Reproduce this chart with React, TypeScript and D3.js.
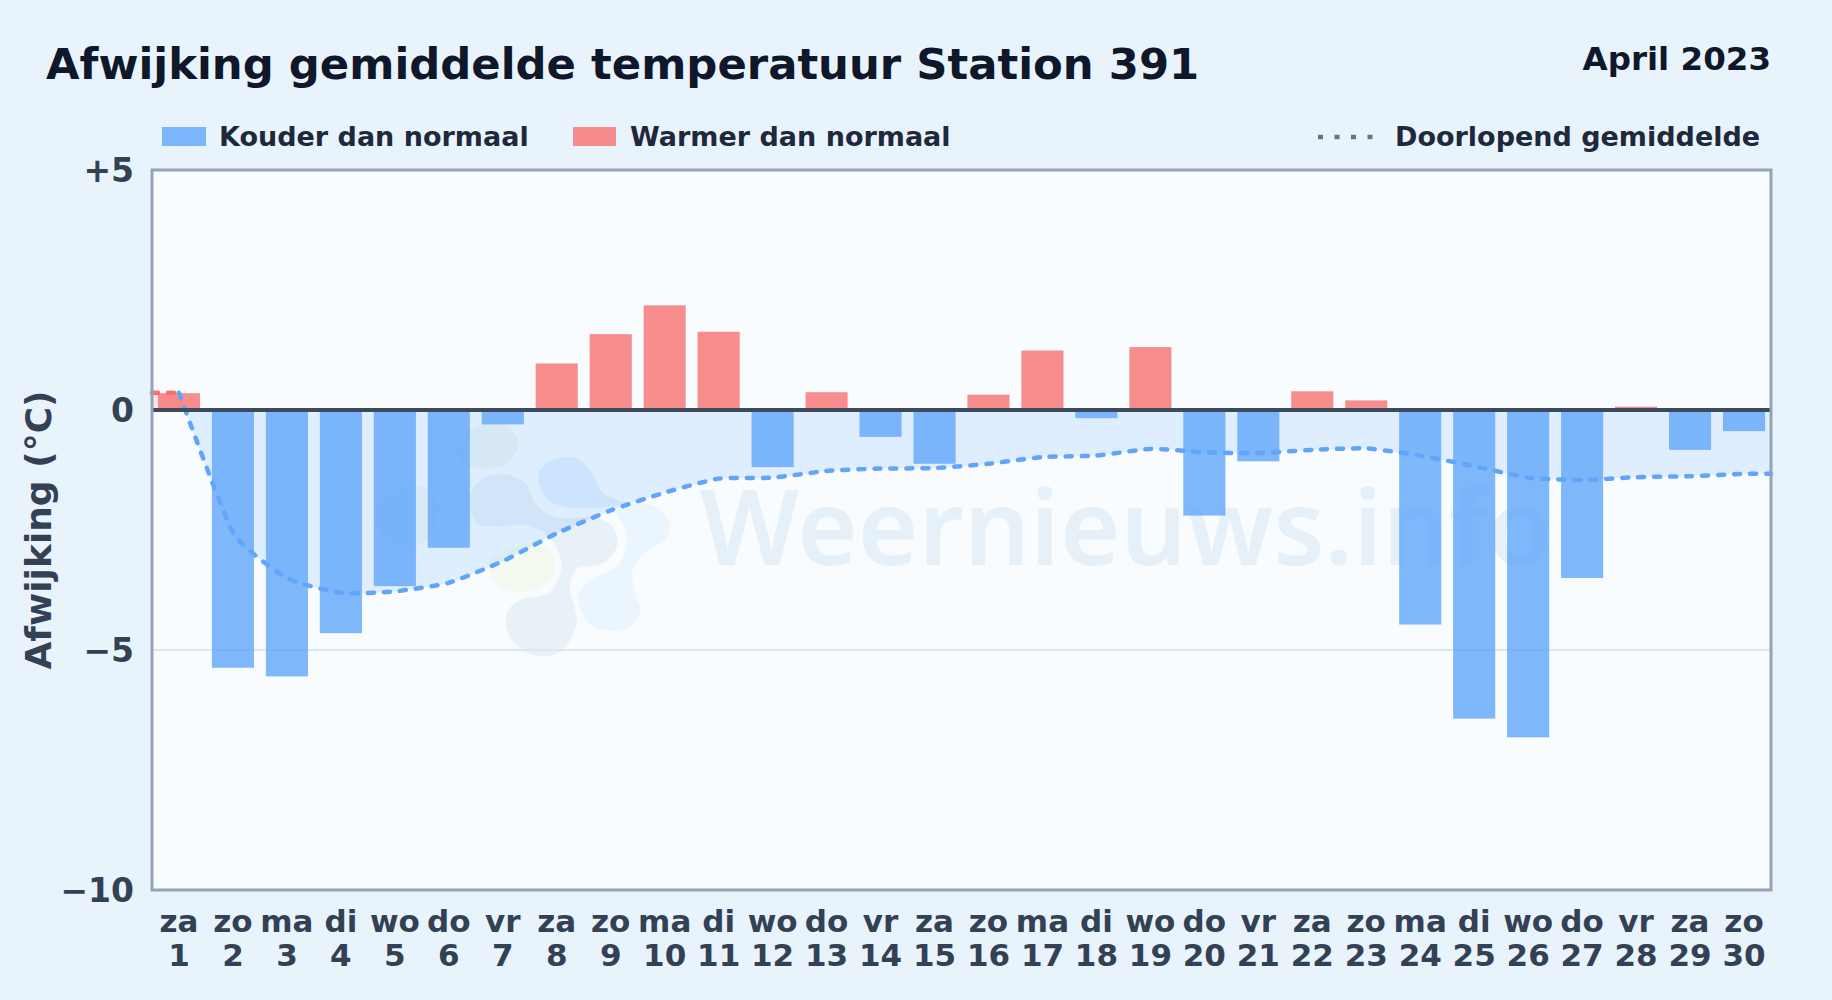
import React, { useEffect, useRef } from "react";
import * as d3 from "d3";

const weekdays = ["za","zo","ma","di","wo","do","vr","za","zo","ma","di","wo","do","vr","za","zo","ma","di","wo","do","vr","za","zo","ma","di","wo","do","vr","za","zo"];
const days = [1,2,3,4,5,6,7,8,9,10,11,12,13,14,15,16,17,18,19,20,21,22,23,24,25,26,27,28,29,30];
const deviation = [0.35,-5.37,-5.55,-4.65,-3.67,-2.87,-0.3,0.97,1.58,2.18,1.63,-1.19,0.37,-0.56,-1.12,0.32,1.24,-0.17,1.31,-2.2,-1.07,0.39,0.2,-4.47,-6.43,-6.82,-3.5,0.07,-0.83,-0.44];
const runningMean = [0.36,-2.55,-3.5,-3.81,-3.78,-3.6,-3.15,-2.57,-2.09,-1.72,-1.43,-1.41,-1.27,-1.22,-1.21,-1.12,-0.98,-0.95,-0.81,-0.88,-0.9,-0.83,-0.8,-0.95,-1.17,-1.41,-1.46,-1.4,-1.38,-1.33];
const yTicks = [5, 0, -5, -10];
const legendItems = ["Kouder dan normaal", "Warmer dan normaal"];

const W = 1832;
const H = 1000;
const margin = { top: 170, right: 61, bottom: 110, left: 152 };
const FONT = "'DejaVu Sans', sans-serif";

// watermark blobs, in their own little coordinate space
const logoBlobs: { pts: [number, number][]; fill: string }[] = [
  { fill: "#eef5f1", pts: [[300,60],[380,35],[435,70],[440,125],[400,165],[320,175],[270,150],[265,95]] },
  { fill: "#f0f6f6", pts: [[60,250],[130,225],[200,260],[180,380],[120,410],[40,380],[10,310]] },
  { fill: "#e8f0f8", pts: [[300,260],[340,205],[420,195],[470,225],[495,280],[560,322],[660,322],[725,345],[742,405],[700,460],[620,478],[600,530],[620,640],[570,725],[490,735],[420,680],[410,610],[450,570],[535,550],[575,465],[540,385],[470,345],[380,350],[320,340]] },
  { fill: "#e2f0fe", pts: [[505,190],[550,148],[620,145],[665,190],[700,250],[760,280],[690,292],[590,292],[530,265]] },
  { fill: "#ebf5fe", pts: [[740,300],[840,285],[895,330],[890,385],[830,425],[788,480],[800,560],[812,600],[780,650],[710,662],[650,630],[625,560],[660,510],[740,470],[770,410],[765,350]] },
  { fill: "#f3f9ef", pts: [[355,450],[420,420],[500,395],[550,440],[545,500],[490,540],[420,545],[370,510]] },
];

export default function App() {
  const svgRef = useRef<SVGSVGElement | null>(null);

  useEffect(() => {
    document.body.style.margin = "0";
    const svg = d3.select(svgRef.current);
    svg.selectAll("*").remove();

    const x = d3.scaleBand<number>()
      .domain(days)
      .range([margin.left, W - margin.right])
      .paddingInner(0.22)
      .paddingOuter(0.11);
    const y = d3.scaleLinear().domain([-10, 5]).range([H - margin.bottom, margin.top]);
    const cx = (d: number) => (x(d) || 0) + x.bandwidth() / 2;

    const defs = svg.append("defs");
    const px0 = margin.left;
    const px1 = W - margin.right;
    const plotW = px1 - px0;
    defs.append("clipPath").attr("id", "plot").append("rect")
      .attr("x", px0).attr("y", margin.top).attr("width", plotW).attr("height", y(-10) - y(5));
    defs.append("clipPath").attr("id", "above").append("rect")
      .attr("x", px0).attr("y", margin.top).attr("width", plotW).attr("height", y(0) - y(5));
    defs.append("clipPath").attr("id", "below").append("rect")
      .attr("x", px0).attr("y", y(0)).attr("width", plotW).attr("height", y(-10) - y(0));

    svg.append("rect").attr("width", W).attr("height", H).attr("fill", "#e9f3fc");
    svg.append("rect").attr("x", px0).attr("y", margin.top).attr("width", plotW).attr("height", y(-10) - y(5)).attr("fill", "#f8fcff");

    // watermark
    const mark = svg.append("g").attr("clip-path", "url(#plot)");
    const blobLine = d3.line<[number, number]>().curve(d3.curveCatmullRomClosed.alpha(0.5));
    mark.append("g").attr("transform", "translate(370,410) scale(0.3333)")
      .selectAll("path").data(logoBlobs).join("path")
      .attr("d", d => blobLine(d.pts))
      .attr("fill", d => d.fill);
    mark.append("text")
      .attr("x", 700).attr("y", 565)
      .attr("font-family", "'Noto Sans', sans-serif")
      .attr("font-weight", 600)
      .attr("font-size", 104)
      .attr("fill", "#e6f0f8")
      .text("Weernieuws.info");

    // running mean: flat lead-in up to day 1, curve after it, flat-ended at the frame
    const leadPts: [number, number][] = [[px0, runningMean[0]], [cx(days[0]), runningMean[0]]];
    const curvePts: [number, number][] = [
      ...days.map((d, i) => [cx(d), runningMean[i]] as [number, number]),
      [px1, runningMean[runningMean.length - 1]],
    ];
    const curve = d3.curveCardinal.tension(0.5);
    const line = d3.line<[number, number]>().x(d => d[0]).y(d => y(d[1])).curve(curve);
    const leadLine = d3.line<[number, number]>().x(d => d[0]).y(d => y(d[1]));
    const area = d3.area<[number, number]>().x(d => d[0]).y0(y(0)).y1(d => y(d[1])).curve(curve);
    const leadArea = d3.area<[number, number]>().x(d => d[0]).y0(y(0)).y1(d => y(d[1]));

    svg.append("path").attr("d", area(curvePts)).attr("clip-path", "url(#below)").attr("fill", "rgba(96,165,250,0.16)");
    svg.append("path").attr("d", area(curvePts)).attr("clip-path", "url(#above)").attr("fill", "rgba(248,113,113,0.15)");
    svg.append("path").attr("d", leadArea(leadPts)).attr("fill", "rgba(248,113,113,0.15)");

    // grid
    svg.append("line").attr("x1", px0).attr("x2", px1).attr("y1", y(-5)).attr("y2", y(-5))
      .attr("stroke", "#dfe7ee").attr("stroke-width", 2);

    // bars
    svg.append("g").selectAll("rect").data(days).join("rect")
      .attr("x", d => x(d) || 0)
      .attr("width", x.bandwidth())
      .attr("y", (_, i) => y(Math.max(0, deviation[i])))
      .attr("height", (_, i) => Math.abs(y(deviation[i]) - y(0)))
      .attr("fill", (_, i) => (deviation[i] < 0 ? "rgba(96,165,250,0.8)" : "rgba(248,113,113,0.8)"));

    svg.append("path")
      .attr("d", line(curvePts))
      .attr("fill", "none").attr("stroke", "#60a5fa").attr("stroke-width", 4.5)
      .attr("stroke-linecap", "round").attr("stroke-dasharray", "6 10");
    svg.append("path")
      .attr("d", leadLine(leadPts))
      .attr("fill", "none").attr("stroke", "#f87171").attr("stroke-width", 4.5)
      .attr("stroke-linecap", "round").attr("stroke-dasharray", "6 10");

    // zero line + frame
    svg.append("line").attr("x1", px0).attr("x2", px1).attr("y1", y(0)).attr("y2", y(0))
      .attr("stroke", "#3d4a5c").attr("stroke-width", 4);
    svg.append("rect").attr("x", px0).attr("y", margin.top).attr("width", plotW).attr("height", y(-10) - y(5))
      .attr("fill", "none").attr("stroke", "#94a3b8").attr("stroke-width", 3);

    // axes
    const yAxis = svg.append("g").attr("transform", `translate(${px0},1)`)
      .call(d3.axisLeft(y).tickValues(yTicks).tickSize(0).tickPadding(18)
        .tickFormat(d => (+d > 0 ? `+${d}` : +d < 0 ? `\u2212${Math.abs(+d)}` : "0")));
    yAxis.select(".domain").remove();
    yAxis.selectAll("text").attr("font-family", FONT).attr("font-weight", 700).attr("font-size", 33).attr("fill", "#334155");

    const xAxis = svg.append("g").attr("transform", `translate(0,${y(-10)})`)
      .call(d3.axisBottom(x).tickSize(0).tickFormat(() => ""));
    xAxis.select(".domain").remove();
    xAxis.selectAll<SVGTextElement, number>("text").each(function (d) {
      const t = d3.select(this).attr("y", null).attr("dy", null)
        .attr("font-family", FONT).attr("font-weight", 700).attr("font-size", 31).attr("fill", "#334155");
      t.append("tspan").attr("x", 0).attr("y", 42).text(weekdays[d - 1]);
      t.append("tspan").attr("x", 0).attr("y", 76).text(String(d));
    });

    svg.append("text")
      .attr("transform", "translate(51,530) rotate(-90)")
      .attr("text-anchor", "middle")
      .attr("font-family", FONT).attr("font-weight", 700).attr("font-size", 36).attr("fill", "#334155")
      .text("Afwijking (°C)");

    // header
    svg.append("text").attr("x", 46).attr("y", 78.5)
      .attr("font-family", FONT).attr("font-weight", 700).attr("font-size", 43.35).attr("fill", "#0f172a")
      .text("Afwijking gemiddelde temperatuur Station 391");
    svg.append("text").attr("x", 1771).attr("y", 70).attr("text-anchor", "end")
      .attr("font-family", FONT).attr("font-weight", 700).attr("font-size", 32.5).attr("fill", "#0f172a")
      .text("April 2023");

    // legend
    const legendText = (sx: number, label: string) =>
      svg.append("text").attr("x", sx).attr("y", 146)
        .attr("font-family", FONT).attr("font-weight", 700).attr("font-size", 27).attr("fill", "#1e293b").text(label);
    svg.append("rect").attr("x", 162).attr("y", 127).attr("width", 44).attr("height", 19).attr("fill", "rgba(96,165,250,0.8)");
    legendText(219, legendItems[0]);
    svg.append("rect").attr("x", 573).attr("y", 127).attr("width", 43).attr("height", 19).attr("fill", "rgba(248,113,113,0.8)");
    legendText(630, legendItems[1]);
    svg.append("line").attr("x1", 1318).attr("x2", 1376).attr("y1", 137).attr("y2", 137)
      .attr("stroke", "#64748b").attr("stroke-width", 4.5).attr("stroke-dasharray", "5 11.5");
    legendText(1395, "Doorlopend gemiddelde");
  }, []);

  return (
    <div style={{ position: "absolute", left: 0, top: 0 }}>
      <svg ref={svgRef} width={W} height={H} style={{ display: "block" }} />
    </div>
  );
}
